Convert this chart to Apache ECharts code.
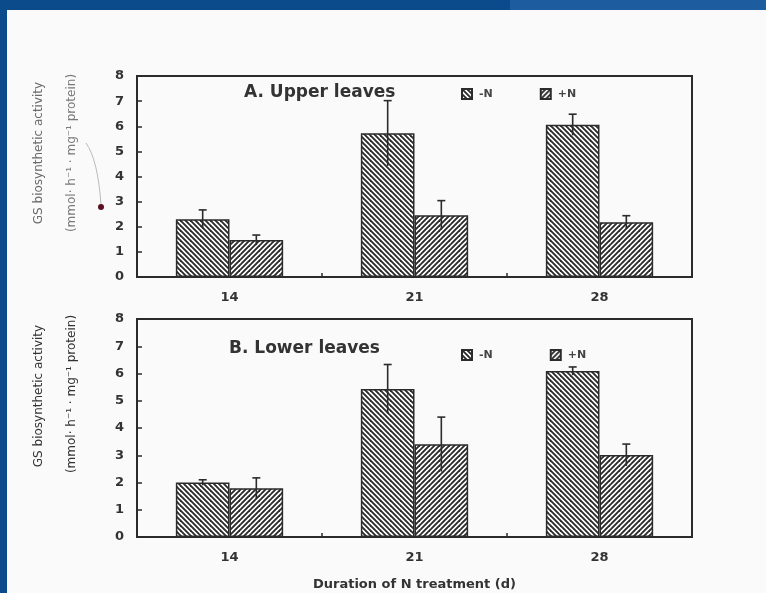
<!DOCTYPE html>
<html>
<head>
<meta charset="utf-8">
<script src="https://cdn.jsdelivr.net/npm/echarts@6/dist/echarts.min.js"></script>
<style>
  html, body { margin: 0; padding: 0; background: #fafafa; }
  #chart { width: 766px; height: 593px; }
</style>
</head>
<body>
<div id="chart"></div>
<script>
// Treatment durations (days) and series
const days = ['14', '21', '28'];
const seriesNames = ['-N', '+N'];

// A. Upper leaves: GS biosynthetic activity and standard errors
const upperMinusN    = [2.30, 5.72, 6.06];
const upperMinusNErr = [0.37, 1.30, 0.42];
const upperPlusN     = [1.47, 2.46, 2.18];
const upperPlusNErr  = [0.20, 0.58, 0.26];

// B. Lower leaves
const lowerMinusN    = [2.00, 5.43, 6.09];
const lowerMinusNErr = [0.10, 0.90, 0.15];
const lowerPlusN     = [1.79, 3.40, 3.01];
const lowerPlusNErr  = [0.38, 1.00, 0.40];

const panelTitles = ['A. Upper leaves', 'B. Lower leaves'];
const yTitle = 'GS biosynthetic activity';
const yUnit = '(mmol\u00b7 h\u207b\u00b9 \u00b7 mg\u207b\u00b9 protein)';
const xTitle = 'Duration of N treatment (d)';

const INK = '#2b2b2b';
const CAT_GAP = 0.42;   // share of each category band left empty

// Diagonal hatch fills: dir 1 -> "\\\\", dir -1 -> "////"
function hatch(dir) {
  const s = 10, step = 5;
  const c = document.createElement('canvas');
  c.width = s; c.height = s;
  const g = c.getContext('2d');
  g.fillStyle = '#ffffff';
  g.fillRect(0, 0, s, s);
  g.strokeStyle = INK;
  g.lineWidth = 1.9;
  for (let k = -3 * s; k <= 3 * s; k += step) {
    g.beginPath();
    if (dir > 0) { g.moveTo(k - 2, -2); g.lineTo(k + s + 2, s + 2); }
    else { g.moveTo(k + 2, -2); g.lineTo(k - s - 2, s + 2); }
    g.stroke();
  }
  return { image: c, repeat: 'repeat' };
}
const fills = [hatch(1), hatch(-1)];

const tickFont = { fontFamily: 'DejaVu Sans', fontWeight: 'bold', fontSize: 13, color: '#333' };

function barSeries(name, idx, gridIdx, values) {
  return {
    name: name, type: 'bar', xAxisIndex: gridIdx, yAxisIndex: gridIdx,
    data: values,
    barGap: '0%', barCategoryGap: (CAT_GAP * 100) + '%',
    itemStyle: { color: fills[idx], borderColor: INK, borderWidth: 1.5 },
    emphasis: { disabled: true },
    z: 2
  };
}

// Error bars drawn on the bar centres (side -1: left bar, +1: right bar)
function errorSeries(gridIdx, means, errs, side) {
  return {
    type: 'custom', xAxisIndex: gridIdx, yAxisIndex: gridIdx,
    data: means.map((m, i) => [i, m, errs[i]]),
    encode: { x: 0, y: 1 },
    z: 5,
    silent: true,
    renderItem: function (params, api) {
      const i = api.value(0), m = api.value(1), e = api.value(2);
      const band = api.size([1, 0])[0];
      const barW = band * (1 - CAT_GAP) / 2;
      const c = api.coord([i, m]);
      const x = c[0] + side * barW / 2;
      const top = api.coord([i, m + e])[1];
      const bot = api.coord([i, m - e])[1];
      const st = { stroke: INK, lineWidth: 1.6 };
      return {
        type: 'group',
        children: [
          { type: 'line', shape: { x1: x, y1: top, x2: x, y2: bot }, style: st },
          { type: 'line', shape: { x1: x - 4, y1: top, x2: x + 4, y2: top }, style: st }
        ]
      };
    }
  };
}

function xAxis(gridIdx, withName) {
  const ax = {
    type: 'category', gridIndex: gridIdx, data: days,
    axisLine: { show: true, lineStyle: { color: INK, width: 2 } },
    axisTick: { show: true, inside: true, length: 4, lineStyle: { color: INK, width: 1.5 } },
    axisLabel: Object.assign({ margin: 14 }, tickFont)
  };
  if (withName) {
    ax.name = xTitle;
    ax.nameLocation = 'middle';
    ax.nameGap = 41;
    ax.nameTextStyle = { fontFamily: 'DejaVu Sans', fontWeight: 'bold', fontSize: 13, color: '#333' };
  }
  return ax;
}

function yAxis(gridIdx) {
  return {
    type: 'value', gridIndex: gridIdx, min: 0, max: 8, interval: 1,
    axisLine: { show: true, lineStyle: { color: INK, width: 2 } },
    axisTick: { show: true, inside: true, length: 5, lineStyle: { color: INK, width: 1.5 } },
    axisLabel: Object.assign({ margin: 13 }, tickFont),
    splitLine: { show: false }
  };
}

function legend(top, gap) {
  return {
    data: seriesNames, left: 456, top: top, orient: 'horizontal',
    icon: 'rect', itemWidth: 10, itemHeight: 10, itemGap: gap,
    selectedMode: false,
    textStyle: { fontFamily: 'DejaVu Sans', fontWeight: 'bold', fontSize: 11, color: '#444', padding: [0, 0, 0, 2] }
  };
}

function vText(x, y, text, color) {
  return {
    type: 'text', x: x, y: y, rotation: Math.PI / 2,
    style: { text: text, fill: color, font: '12px "DejaVu Sans"', align: 'center', verticalAlign: 'middle' }
  };
}

const titleStyle = { fontFamily: 'DejaVu Sans', fontWeight: 'bold', fontSize: 17, color: '#333' };

const option = {
  backgroundColor: '#fafafa',
  animation: false,
  title: [
    { text: panelTitles[0], left: 244, top: 84, padding: 0, textStyle: titleStyle },
    { text: panelTitles[1], left: 229, top: 340, padding: 0, textStyle: titleStyle }
  ],
  legend: [legend(83, 47), legend(344, 57)],
  grid: [
    { left: 137, right: 74, top: 76, bottom: 316, show: true, borderColor: INK, borderWidth: 2 },
    { left: 137, right: 74, top: 319, bottom: 56, show: true, borderColor: INK, borderWidth: 2 }
  ],
  xAxis: [xAxis(0, false), xAxis(1, true)],
  yAxis: [yAxis(0), yAxis(1)],
  series: [
    barSeries(seriesNames[0], 0, 0, upperMinusN),
    barSeries(seriesNames[1], 1, 0, upperPlusN),
    barSeries(seriesNames[0], 0, 1, lowerMinusN),
    barSeries(seriesNames[1], 1, 1, lowerPlusN),
    errorSeries(0, upperMinusN, upperMinusNErr, -1),
    errorSeries(0, upperPlusN, upperPlusNErr, 1),
    errorSeries(1, lowerMinusN, lowerMinusNErr, -1),
    errorSeries(1, lowerPlusN, lowerPlusNErr, 1)
  ],
  graphic: [
    // slide frame
    { type: 'rect', shape: { x: 0, y: 0, width: 766, height: 10 }, style: { fill: '#0b4a8b' }, silent: true },
    { type: 'rect', shape: { x: 510, y: 0, width: 256, height: 10 }, style: { fill: '#1d5c9e' }, silent: true },
    { type: 'rect', shape: { x: 0, y: 0, width: 7, height: 593 }, style: { fill: '#0b4a8b' }, silent: true },
    // y-axis titles
    vText(39, 153, yTitle, '#6a6a6a'),
    vText(72, 153, yUnit, '#7a7a7a'),
    vText(39, 396, yTitle, '#333'),
    vText(72, 394, yUnit, '#333'),
    // pen mark next to the upper axis
    { type: 'bezierCurve', shape: { x1: 86, y1: 143, x2: 101, y2: 205, cpx1: 98, cpy1: 160 },
      style: { stroke: '#aaa', lineWidth: 0.8, fill: null }, silent: true },
    { type: 'circle', shape: { cx: 101, cy: 207, r: 3 }, style: { fill: '#5a1020' }, silent: true }
  ]
};

const chart = echarts.init(document.getElementById('chart'), null, { renderer: 'canvas' });
chart.setOption(option);
</script>
</body>
</html>
